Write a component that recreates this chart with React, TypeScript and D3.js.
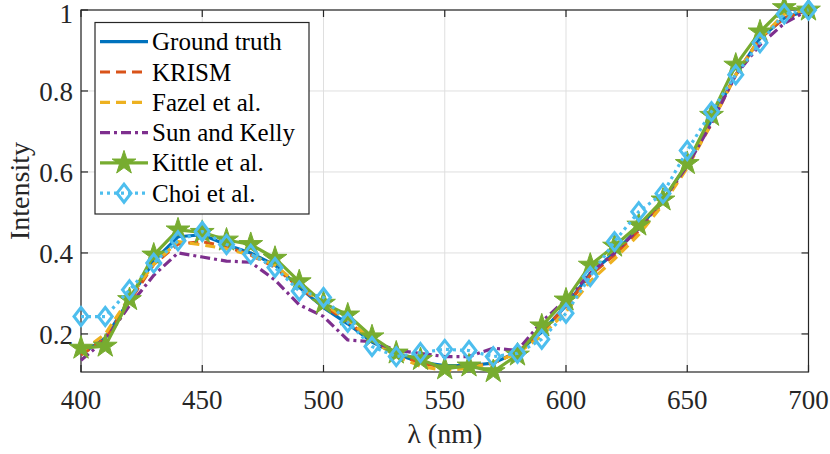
import React from 'react';
import * as d3 from 'd3';

const wavelengths = [400, 410, 420, 430, 440, 450, 460, 470, 480, 490, 500, 510, 520, 530, 540, 550, 560, 570, 580, 590, 600, 610, 620, 630, 640, 650, 660, 670, 680, 690, 700];

const groundTruth = [0.150, 0.190, 0.285, 0.380, 0.440, 0.445, 0.420, 0.400, 0.370, 0.315, 0.265, 0.225, 0.180, 0.150, 0.130, 0.122, 0.122, 0.128, 0.155, 0.205, 0.270, 0.350, 0.400, 0.462, 0.530, 0.620, 0.728, 0.840, 0.930, 0.980, 1.000];
const krism = [0.148, 0.188, 0.280, 0.372, 0.422, 0.428, 0.415, 0.395, 0.365, 0.315, 0.270, 0.230, 0.185, 0.150, 0.128, 0.118, 0.118, 0.128, 0.155, 0.205, 0.268, 0.345, 0.395, 0.455, 0.525, 0.615, 0.720, 0.840, 0.930, 0.980, 1.000];
const fazel = [0.155, 0.200, 0.290, 0.372, 0.428, 0.420, 0.410, 0.395, 0.370, 0.320, 0.275, 0.235, 0.185, 0.145, 0.120, 0.110, 0.115, 0.130, 0.152, 0.195, 0.255, 0.330, 0.385, 0.445, 0.520, 0.610, 0.720, 0.840, 0.930, 0.990, 1.000];
const sunKelly = [0.135, 0.185, 0.270, 0.345, 0.400, 0.390, 0.380, 0.377, 0.333, 0.272, 0.243, 0.185, 0.181, 0.160, 0.152, 0.144, 0.144, 0.165, 0.159, 0.230, 0.285, 0.350, 0.400, 0.460, 0.530, 0.615, 0.720, 0.840, 0.914, 0.967, 1.000];
const kittle = [0.165, 0.170, 0.285, 0.395, 0.457, 0.451, 0.432, 0.421, 0.387, 0.329, 0.276, 0.247, 0.193, 0.153, 0.137, 0.114, 0.121, 0.107, 0.148, 0.220, 0.284, 0.370, 0.417, 0.469, 0.531, 0.621, 0.740, 0.864, 0.946, 1.006, 1.000];
const choi = [0.243, 0.243, 0.309, 0.375, 0.430, 0.453, 0.421, 0.397, 0.364, 0.306, 0.290, 0.229, 0.169, 0.144, 0.154, 0.162, 0.159, 0.144, 0.152, 0.187, 0.251, 0.342, 0.428, 0.502, 0.547, 0.653, 0.749, 0.840, 0.919, 0.990, 1.000];

const xTicks = [400, 450, 500, 550, 600, 650, 700];
const yTicks = [0.2, 0.4, 0.6, 0.8, 1];
const yTickLabels = ['0.2', '0.4', '0.6', '0.8', '1'];

const series = [
    { name: 'Ground truth', values: groundTruth, color: '#0072BD', dash: '', marker: '' },
    { name: 'KRISM', values: krism, color: '#D95319', dash: '10,6', marker: '' },
    { name: 'Fazel et al.', values: fazel, color: '#EDB120', dash: '10,6', marker: '' },
    { name: 'Sun and Kelly', values: sunKelly, color: '#7E2F8E', dash: '10,4,3,4', marker: '' },
    { name: 'Kittle et al.', values: kittle, color: '#77AC30', dash: '', marker: 'star' },
    { name: 'Choi et al.', values: choi, color: '#4DBEEE', dash: '3,4', marker: 'diamond' },
];

const FONT = "'Liberation Serif', Tinos, 'Times New Roman', serif";
const INK = '#262626';

const left = 81, right = 808.5, top = 10, bottom = 372;
const x = d3.scaleLinear().domain([400, 700]).range([left, right]);
const y = d3.scaleLinear().domain([0.106, 1]).range([bottom, top]);
const line = d3.line<number>().x((_, i) => x(wavelengths[i])).y(d => y(d));
const starPath = d3.symbol().type(d3.symbolStar).size(175)() as string;
const diamondPath = 'M0,-9L7,0L0,9L-7,0Z';

const Marker: React.FC<{ kind: string; color: string; cx: number; cy: number }> = ({ kind, color, cx, cy }) => {
    if (kind === 'star') {
        return <path d={starPath} transform={`translate(${cx},${cy})`} fill={color} stroke={color} strokeWidth={1} />;
    }
    if (kind === 'diamond') {
        return <path d={diamondPath} transform={`translate(${cx},${cy})`} fill="none" stroke={color} strokeWidth={3} />;
    }
    return null;
};

const App: React.FC = () => {
    document.body.style.margin = '0';
    const tl = 7;

    return (
        <svg width="830" height="454" style={{ display: 'block' }}>
            <rect width={830} height={454} fill="#fff" />

            {/* grid */}
            <g stroke="#dfdfdf" strokeWidth={1}>
                {xTicks.map(t => <line key={'gx' + t} x1={x(t)} x2={x(t)} y1={top} y2={bottom} />)}
                {yTicks.map(t => <line key={'gy' + t} x1={left} x2={right} y1={y(t)} y2={y(t)} />)}
            </g>

            {/* box and ticks */}
            <rect x={left} y={top} width={right - left} height={bottom - top} fill="none" stroke={INK} strokeWidth={1.2} />
            <g stroke={INK} strokeWidth={1.2}>
                {xTicks.map(t => (
                    <g key={'tx' + t}>
                        <line x1={x(t)} x2={x(t)} y1={bottom} y2={bottom - tl} />
                        <line x1={x(t)} x2={x(t)} y1={top} y2={top + tl} />
                    </g>
                ))}
                {yTicks.map(t => (
                    <g key={'ty' + t}>
                        <line x1={left} x2={left + tl} y1={y(t)} y2={y(t)} />
                        <line x1={right} x2={right - tl} y1={y(t)} y2={y(t)} />
                    </g>
                ))}
            </g>

            {/* tick labels and axis titles */}
            <g fill={INK} style={{ fontFamily: FONT }}>
                {xTicks.map(t => (
                    <text key={'lx' + t} x={x(t)} y={409} textAnchor="middle" style={{ fontSize: '27px' }}>{String(t)}</text>
                ))}
                {yTicks.map((t, i) => (
                    <text key={'ly' + t} x={73} y={Math.max(y(t) + 10, 23)} textAnchor="end" style={{ fontSize: '27px' }}>{yTickLabels[i]}</text>
                ))}
                <text x={(left + right) / 2} y={443} textAnchor="middle" style={{ fontSize: '28px' }}>λ (nm)</text>
                <text transform={`translate(29,${(top + bottom) / 2}) rotate(-90)`} textAnchor="middle" style={{ fontSize: '28px' }}>Intensity</text>
            </g>

            {/* series */}
            {series.map(s => (
                <g key={s.name}>
                    <path d={line(s.values) as string} fill="none" stroke={s.color} strokeWidth={3.2}
                        strokeDasharray={s.dash || undefined} strokeLinejoin="round" />
                    {s.marker && s.values.map((v, i) => (
                        <Marker key={i} kind={s.marker} color={s.color} cx={x(wavelengths[i])} cy={y(v)} />
                    ))}
                </g>
            ))}

            {/* legend */}
            <g>
                <rect x={95} y={22.5} width={214} height={191.5} fill="#fff" stroke={INK} strokeWidth={1.2} />
                {series.map((s, i) => {
                    const cy = 41.7 + i * 30.3;
                    return (
                        <g key={'lg' + s.name}>
                            <line x1={100} x2={148} y1={cy} y2={cy} stroke={s.color} strokeWidth={3.2} strokeDasharray={s.dash || undefined} />
                            {s.marker && <Marker kind={s.marker} color={s.color} cx={124} cy={cy} />}
                            <text x={152} y={cy + 8.5} fill="#000" style={{ fontFamily: FONT, fontSize: '25px' }}>{s.name}</text>
                        </g>
                    );
                })}
            </g>
        </svg>
    );
};

export default App;
